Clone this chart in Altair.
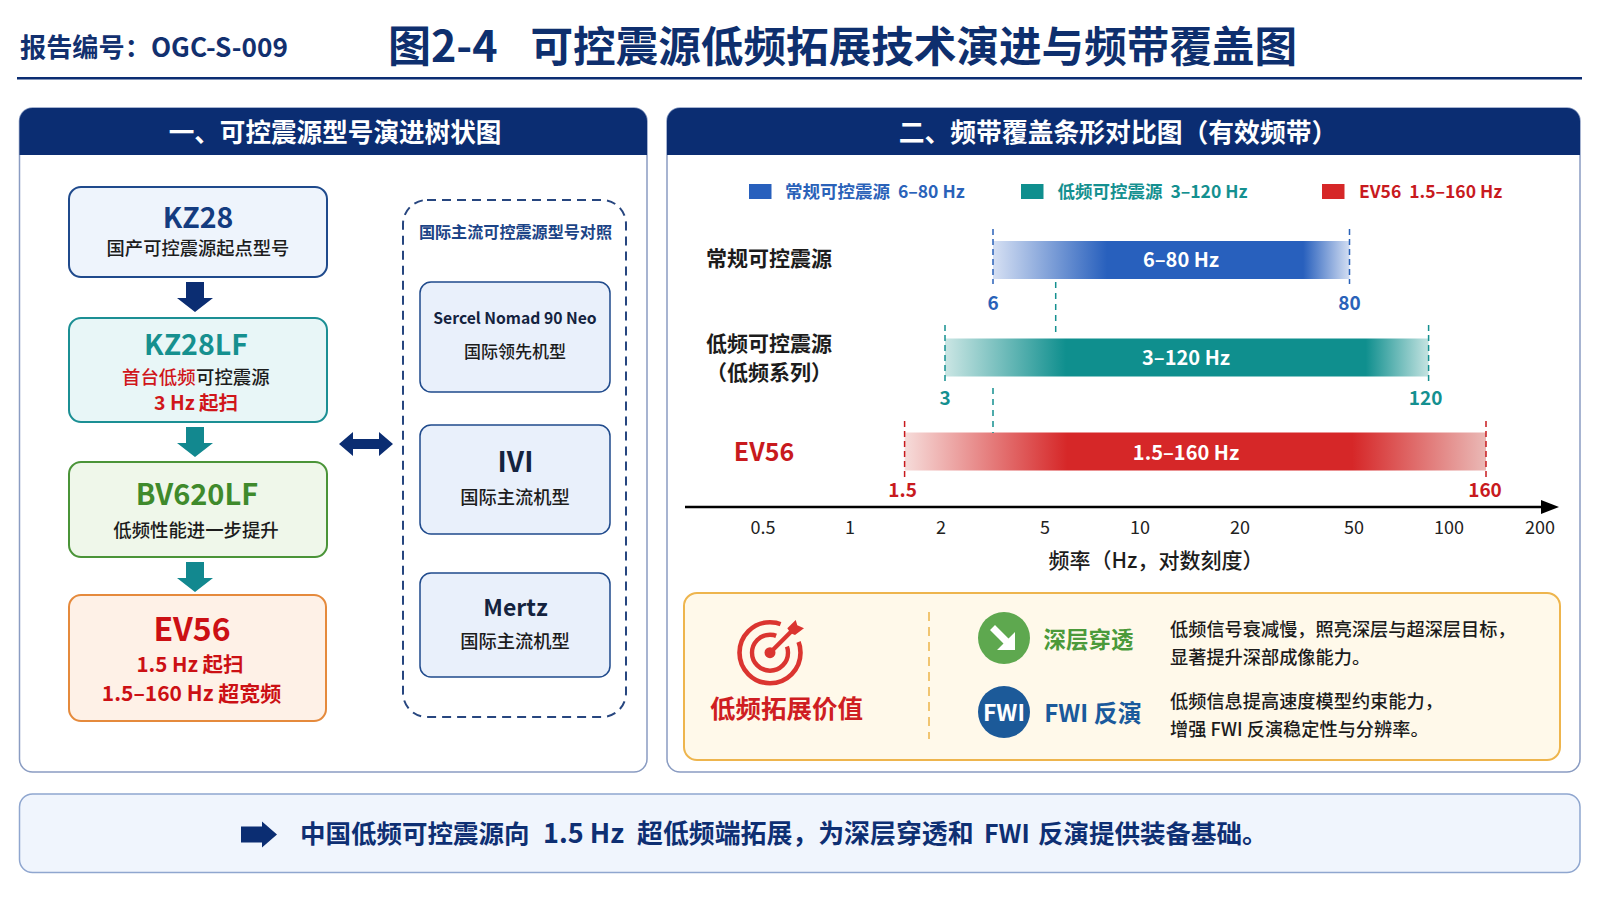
import altair as alt

FONT = "Noto Sans CJK SC"
OFF = 8  # page margin

NAVY = "#0b2d72"
TEAL = "#12888f"
RED = "#d0161b"
BLUE = "#2860bd"
GREEN = "#3f8a2c"
INK = "#1c1c1c"
CREAM = "#fff9ea"
NB = "\u00a0"

# frequency bands
band_names = ["常规可控震源", "低频可控震源", "EV56"]
band_low = [6, 3, 1.5]
band_high = [80, 120, 160]
band_low_text = ["6", "3", "1.5"]
band_high_text = ["80", "120", "160"]
band_colors = ["#2860bd", "#0f8f8e", "#d62728"]
band_label_colors = ["#2a62b9", "#149090", "#c81a1e"]
band_fades = [
    ["#d6e0f3", "#2860bd", "#2860bd", "#d3def2"],
    ["#cbe6e4", "#0f8f8e", "#0f8f8e", "#c4e3e1"],
    ["#f6dcda", "#d62728", "#d62728", "#eab9b6"],
]
band_stops = [[0, 0.32, 0.87, 1], [0, 0.25, 0.87, 1], [0, 0.28, 0.77, 1]]

# the picture's axis is not a true log axis: positions are pinned per label
axis_ticks = [0.5, 1, 2, 5, 10, 20, 50, 100, 200]
axis_labels = ["0.5", "1", "2", "5", "10", "20", "50", "100", "200"]
axis_pos = [763, 850, 941, 1045, 1140, 1240, 1354, 1449, 1540]

band_domain = [1.5, 3, 6, 80, 120, 160]
band_pos = [904.6, 945, 993, 1349.5, 1428.6, 1486]

layers = []
ONE = alt.Data(values=[{"k": 1}])


def rect(x0, y0, x1, y1, fill="none", stroke=None, sw=1.5, r=0, dash=None, **kw):
    opts = dict(fill=fill, cornerRadius=r, **kw)
    if stroke:
        opts.update(stroke=stroke, strokeWidth=sw)
    if dash:
        opts["strokeDash"] = dash
    layers.append(alt.Chart(ONE).mark_rect(**opts).encode(
        x=alt.value(x0 - OFF), x2=alt.value(x1 - OFF),
        y=alt.value(y0 - OFF), y2=alt.value(y1 - OFF)))


def text(x, y, s, size, color=INK, weight=500, align="center", font=FONT):
    layers.append(alt.Chart(ONE).mark_text(
        text=s, font=font, fontSize=size, fontWeight=weight, color=color,
        align=align, baseline="middle").encode(
        x=alt.value(x - OFF), y=alt.value(y - OFF + size * 0.07)))


def shape(x, y, path, color, angle=0):
    # custom path in px around the centre; size 4 means 1 unit = 1 px
    layers.append(alt.Chart(ONE).mark_point(
        shape=path, size=4, filled=True, fill=color, strokeWidth=0, opacity=1, angle=angle).encode(
        x=alt.value(x - OFF), y=alt.value(y - OFF)))


def vline(x, y0, y1, color, sw=1.5, dash=(6, 5)):
    layers.append(alt.Chart(ONE).mark_rule(
        color=color, strokeWidth=sw, strokeDash=list(dash)).encode(
        x=alt.value(x - OFF), y=alt.value(y0 - OFF), y2=alt.value(y1 - OFF)))


def ring(x, y, r, color, sw):
    layers.append(alt.Chart(ONE).mark_point(
        shape="circle", size=(2 * r) ** 2, filled=False, stroke=color, strokeWidth=sw, opacity=1).encode(
        x=alt.value(x - OFF), y=alt.value(y - OFF)))


def dot(x, y, r, color):
    layers.append(alt.Chart(ONE).mark_point(
        shape="circle", size=(2 * r) ** 2, filled=True, fill=color, strokeWidth=0, opacity=1).encode(
        x=alt.value(x - OFF), y=alt.value(y - OFF)))


DOWN = "M-9,-15 L9,-15 L9,1 L18,1 L0,15 L-18,1 L-9,1 Z"

# header
text(20, 47, "报告编号：OGC-S-009", 26.2, "#12306f", "bold", "left")
text(388, 46, "图2-4", 43, "#0e2f6e", "bold", "left")
text(530.5, 46, "可控震源低频拓展技术演进与频带覆盖图", 42.6, "#0e2f6e", "bold", "left")
rect(17, 77, 1582, 79.5, fill=NAVY)

# panels
for x0, x1, title, tx, ts in [(19.5, 647, "一、可控震源型号演进树状图", 335, 25.6),
                              (667, 1580, "二、频带覆盖条形对比图（有效频带）", 1118, 25.8)]:
    rect(x0, 108, x1, 772, fill="white", stroke="#8a9cc2", r=13)
    rect(x0, 108, x1, 155, fill=NAVY, cornerRadiusTopLeft=13, cornerRadiusTopRight=13,
         cornerRadiusBottomLeft=0, cornerRadiusBottomRight=0)
    text(tx, 132, title, ts, "white", "bold")

# evolution tree
rect(69, 187, 327, 277, fill="#eef4fc", stroke="#1f4a8c", sw=2, r=12)
text(198, 217, "KZ28", 28.5, "#143c80", "bold")
text(198, 249, "国产可控震源起点型号", 18.3)
shape(195, 297, DOWN, NAVY)

rect(69, 318, 327, 422, fill="#e8f6f7", stroke="#1b8f94", sw=2, r=12)
text(196, 344, "KZ28LF", 28.5, "#16908f", "bold")
text(122, 377, "首台低频", 18.4, RED, 500, "left")
text(196, 377, "可控震源", 18.4, INK, 500, "left")
text(196, 403, "3 Hz 起扫", 19.5, RED, "bold")
shape(195, 442, DOWN, TEAL)

rect(69, 462, 327, 557, fill="#eff7ea", stroke="#4a9438", sw=2, r=12)
text(197, 494, "BV620LF", 29, GREEN, "bold")
text(196, 530, "低频性能进一步提升", 18.4)
shape(195, 577, DOWN, TEAL)

rect(69, 595, 326, 721, fill="#fef1e7", stroke="#e58a3c", sw=2, r=12)
text(192, 629, "EV56", 32, "#cc1014", "bold")
text(190, 665, "1.5 Hz 起扫", 20.5, "#cc1014", "bold")
text(191.5, 694, "1.5–160 Hz 超宽频", 21, "#cc1014", "bold")

shape(366, 444, "M-27,0 L-13,-12 L-13,-5 L13,-5 L13,-12 L27,0 L13,12 L13,5 L-13,5 L-13,12 Z", NAVY)

# international models
rect(403, 200, 626, 717, stroke="#27467f", sw=2, r=24, dash=[9, 6])
text(515.5, 232, "国际主流可控震源型号对照", 16.1, "#1c4487", "bold")
rect(420, 282, 610, 392, fill="#e9f0fb", stroke="#1f4a8c", r=11)
text(515, 318, "Sercel Nomad 90 Neo", 15.7, "#14233f", "bold")
text(515, 352, "国际领先机型", 17)
rect(420, 425, 610, 534, fill="#e9f0fb", stroke="#1f4a8c", r=11)
text(515.5, 462, "IVI", 28, "#14233f", "bold")
text(515, 498, "国际主流机型", 18.3)
rect(420, 573, 610, 677, fill="#e9f0fb", stroke="#1f4a8c", r=11)
text(515.5, 607, "Mertz", 23, "#14233f", "bold")
text(515, 642, "国际主流机型", 18.3)

# legend
legend_x = [(749, 785), (1021, 1057.5), (1322, 1359)]
for i, (sx, tx) in enumerate(legend_x):
    rect(sx, 184, sx + 22.5, 199, fill=band_colors[i])
    s = f"{band_names[i]}{NB}{NB}{band_low_text[i]}–{band_high_text[i]} Hz"
    text(tx, 192, s, 17.5, band_label_colors[i], "bold", "left")

# band bars
band_scale = alt.Scale(type="log", domain=band_domain, range=[p - OFF for p in band_pos])
row_scale = alt.Scale(domain=[0, 1, 2], range=[260 - OFF, 357.5 - OFF, 451.5 - OFF],
                      padding=0, nice=False, zero=False)
rule_tops = [229, 325, 421]
rule_bottoms = [284, 382, 477]
label_y = [304, 399, 491]
label_x = [1181, 1186, 1186]
label_dy = [1, 1, 2]
low_dx = [0, 0, -2]
high_dx = [0, -3, -1]

for i in range(3):
    row = alt.Data(values=[{"row": i, "low": band_low[i], "high": band_high[i],
                            "lab": f"{band_low_text[i]}–{band_high_text[i]} Hz",
                            "lt": band_low_text[i], "ht": band_high_text[i]}])
    grad = alt.LinearGradient(
        gradient="linear", x1=0, x2=1, y1=0, y2=0,
        stops=[alt.GradientStop(color=c, offset=o) for c, o in zip(band_fades[i], band_stops[i])])
    layers.append(alt.Chart(row).mark_bar(orient="horizontal", height=38, color=grad).encode(
        x=alt.X("low:Q", scale=band_scale, axis=None),
        x2="high:Q",
        y=alt.Y("row:Q", scale=row_scale, axis=None)))
    for field in ["low", "high"]:
        layers.append(alt.Chart(row).mark_rule(
            color=band_label_colors[i], strokeWidth=1.5, strokeDash=[6, 4]).encode(
            x=alt.X(f"{field}:Q", scale=band_scale, axis=None),
            y=alt.value(rule_tops[i] - OFF), y2=alt.value(rule_bottoms[i] - OFF)))
    layers.append(alt.Chart(row).mark_text(
        font=FONT, fontSize=20, fontWeight="bold", color="white", baseline="middle", dy=label_dy[i]).encode(
        x=alt.value(label_x[i] - OFF), y=alt.Y("row:Q", scale=row_scale, axis=None), text="lab:N"))
    for field, tf, dxs in [("low", "lt", low_dx), ("high", "ht", high_dx)]:
        layers.append(alt.Chart(row).mark_text(
            font=FONT, fontSize=19, fontWeight="bold", color=band_label_colors[i],
            baseline="middle", dx=dxs[i]).encode(
            x=alt.X(f"{field}:Q", scale=band_scale, axis=None),
            y=alt.value(label_y[i] - OFF), text=f"{tf}:N"))

vline(1055.7, 282, 337, "#149090")
vline(993, 388, 433, "#149090")

text(769, 259, band_names[0], 21, INK, "bold")
text(769, 344, band_names[1], 21, INK, "bold")
text(769, 373, "（低频系列）", 21, INK, "bold")
text(764, 451.5, band_names[2], 25, "#c81a1e", "bold")

# frequency axis
layers.append(alt.Chart(ONE).mark_rule(color="black", strokeWidth=2.5).encode(
    x=alt.value(685 - OFF), x2=alt.value(1548 - OFF), y=alt.value(507 - OFF)))
shape(1550, 507, "M-9,-7 L9,0 L-9,7 Z", "black")
tick_scale = alt.Scale(type="log", domain=axis_ticks, range=[p - OFF for p in axis_pos])
layers.append(alt.Chart(alt.Data(values=[{"t": t, "s": s} for t, s in zip(axis_ticks, axis_labels)])).mark_text(
    font=FONT, fontSize=18, color="#222222", baseline="middle", dy=1).encode(
    x=alt.X("t:Q", scale=tick_scale, axis=None), y=alt.value(528 - OFF), text="s:N"))
text(1156, 560.5, "频率（Hz，对数刻度）", 21)

# value box
rect(684, 593, 1560, 760, fill=CREAM, stroke="#eeb54d", sw=2, r=13)
vline(929, 612, 739, "#edb44a", 1.5, (9, 6))
ring(770, 652.7, 30.5, "#db3530", 4.6)
ring(770, 652.7, 18, "#db3530", 4.4)
dot(770, 652.7, 5.5, "#db3530")
shape(770, 652.7, "M5,-14 L13,-35 L38,-35 L34,-13 L14,-5 Z", CREAM)
shape(770, 652.7, "M-1,-2 L20,-23 L23,-20 L2,1 Z", "#db3530")
shape(770, 652.7, "M17.3,-24.4 L25.7,-32.7 L27.3,-27.4 L34,-24.4 L25,-17.7 L20.7,-19.4 Z", "#db3530")
text(786.5, 708, "低频拓展价值", 25.5, "#cf1e22", "bold")

dot(1004, 638, 26, "#5ea84f")
shape(1004, 638, "M-14,-8 L-9,-13 L4.5,0.5 L11,-6 L11,12 L-7,12 L-0.5,5.5 Z", "white")
text(1088.5, 639, "深层穿透", 22.5, "#4b9a3a", "bold")
dot(1004, 712, 26, "#1c5a99")
text(1004, 712, "FWI", 23, "white", "bold")
text(1093, 713, "FWI 反演", 24, "#1b5a9c", "bold")
text(1170, 630, "低频信号衰减慢，照亮深层与超深层目标，", 18.2, INK, 500, "left")
text(1170, 658, "显著提升深部成像能力。", 18.2, INK, 500, "left")
text(1170, 702, "低频信息提高速度模型约束能力，", 18.2, INK, 500, "left")
text(1170, 730, "增强 FWI 反演稳定性与分辨率。", 18.2, INK, 500, "left")

# bottom note, set in pieces because the reference spaces its latin runs wider
rect(19.5, 794, 1580, 872.5, fill="#f0f5fd", stroke="#8fa6cf", r=13)
shape(259, 834.5, "M-18,-8 L3,-8 L3,-13 L18,0 L3,13 L3,8 L-18,8 Z", NAVY)
note_parts = ["中国低频可控震源向", "1.5 Hz", "超低频端拓展，为深层穿透和", "FWI", "反演提供装备基础。"]
note_x = [300, 543, 637, 984, 1038]
note_size = [25.5, 27, 25.9, 25, 25.5]
for part, nx, ns in zip(note_parts, note_x, note_size):
    text(nx, 833, part, ns, "#0e2f73", "bold", "left")

chart = alt.layer(*layers).resolve_scale(x="independent").properties(
    width=1584, height=884, padding=0, autosize=alt.AutoSizeParams(type="none"),
    background="white",
).configure_view(stroke=None)

chart.save("out.html", embed_options={"renderer": "svg", "actions": False})
